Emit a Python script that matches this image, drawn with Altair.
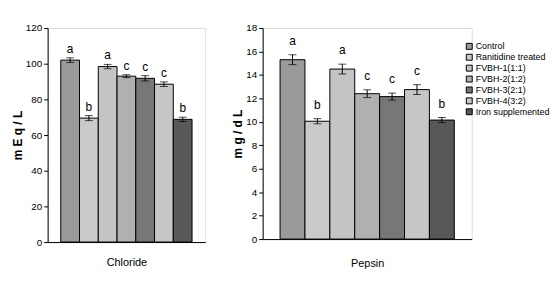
import altair as alt
import pandas as pd

treatments = ["Control", "Ranitidine treated", "FVBH-1(1:1)", "FVBH-2(1:2)",
              "FVBH-3(2:1)", "FVBH-4(3:2)", "Iron supplemented"]
chloride = [102.0, 69.5, 98.4, 93.0, 91.8, 88.5, 68.8]
chloride_err = [1.3, 1.4, 1.2, 0.8, 1.5, 1.3, 1.2]
chloride_letters = ["a", "b", "a", "c", "c", "c", "b"]
pepsin = [15.3, 10.05, 14.5, 12.4, 12.15, 12.75, 10.15]
pepsin_err = [0.42, 0.22, 0.42, 0.33, 0.3, 0.42, 0.22]
pepsin_letters = ["a", "b", "a", "c", "c", "c", "b"]
shades = ["#9a9a9a", "#cacaca", "#c4c4c4", "#b0b0b0", "#777777", "#c6c6c6", "#585858"]

FONT = "Liberation Sans"

legend = alt.Legend(title=None, orient="none", legendX=421, legendY=14,
                    symbolType="square", symbolSize=36,
                    symbolStrokeColor="black", symbolStrokeWidth=1,
                    labelFont=FONT, labelFontSize=9, labelColor="black",
                    rowPadding=0, symbolOffset=0, labelOffset=2,
                    padding=0)


def make_df(vals, errs, letters):
    return pd.DataFrame({
        "treatment": treatments,
        "value": vals,
        "lo": [v - e for v, e in zip(vals, errs)],
        "hi": [v + e for v, e in zip(vals, errs)],
        "letter": letters,
    })


def panel(df, ymax, ystep, ytitle, xtitle, w, h, dy, xtpad):
    xaxis = alt.Axis(title=xtitle, labels=False, ticks=False,
                     domainColor="black", titlePadding=xtpad,
                     titleFontSize=11, titleFontWeight="normal",
                     titleFont=FONT, titleColor="black")
    yaxis = alt.Axis(title=ytitle, grid=False,
                     values=list(range(0, ymax + 1, ystep)),
                     labelOverlap=False,
                     domainColor="black", tickColor="black",
                     tickSize=4, labelPadding=2, labelFontSize=10,
                     labelFont=FONT, labelColor="black",
                     titleFont=FONT, titleFontSize=12, titleColor="black",
                     titleFontWeight="bold", titlePadding=1)
    xscale = alt.Scale(paddingInner=0, paddingOuter=0.7)
    yscale = alt.Scale(domain=[0, ymax], nice=False)

    def X():
        return alt.X("treatment:N", sort=treatments, scale=xscale, axis=xaxis)

    def Y(field):
        return alt.Y(field, scale=yscale, axis=yaxis)

    bars = alt.Chart(df).mark_bar(stroke="black", strokeWidth=1).encode(
        x=X(), y=Y("value:Q"),
        color=alt.Color("treatment:N", sort=treatments,
                        scale=alt.Scale(domain=treatments, range=shades),
                        legend=legend))
    rules = alt.Chart(df).mark_rule(color="black", strokeWidth=1).encode(
        x=X(), y=Y("lo:Q"), y2="hi:Q")
    cap_hi = alt.Chart(df).mark_tick(color="black", size=8, thickness=1).encode(
        x=X(), y=Y("hi:Q"))
    cap_lo = alt.Chart(df).mark_tick(color="black", size=8, thickness=1).encode(
        x=X(), y=Y("lo:Q"))
    text = alt.Chart(df).mark_text(dy=-dy, fontSize=12, font=FONT,
                                   color="black", baseline="middle").encode(
        x=X(), y=Y("hi:Q"), text="letter:N")
    return alt.layer(bars, rules, cap_hi, cap_lo, text).properties(width=w, height=h)


left = panel(make_df(chloride, chloride_err, chloride_letters), 120, 20,
             "m E q  / L", "Chloride", 159, 216, 9, 15)
right = panel(make_df(pepsin, pepsin_err, pepsin_letters), 18, 2,
              "m g  / d L", "Pepsin", 211, 213, 14, 19)

chart = alt.hconcat(left, right, spacing=25).properties(
    padding={"left": 2, "top": 13, "right": 0, "bottom": 0}
).configure_view(stroke=None).configure(background="white")

chart.save("out.html", embed_options={"renderer": "svg", "actions": False})
